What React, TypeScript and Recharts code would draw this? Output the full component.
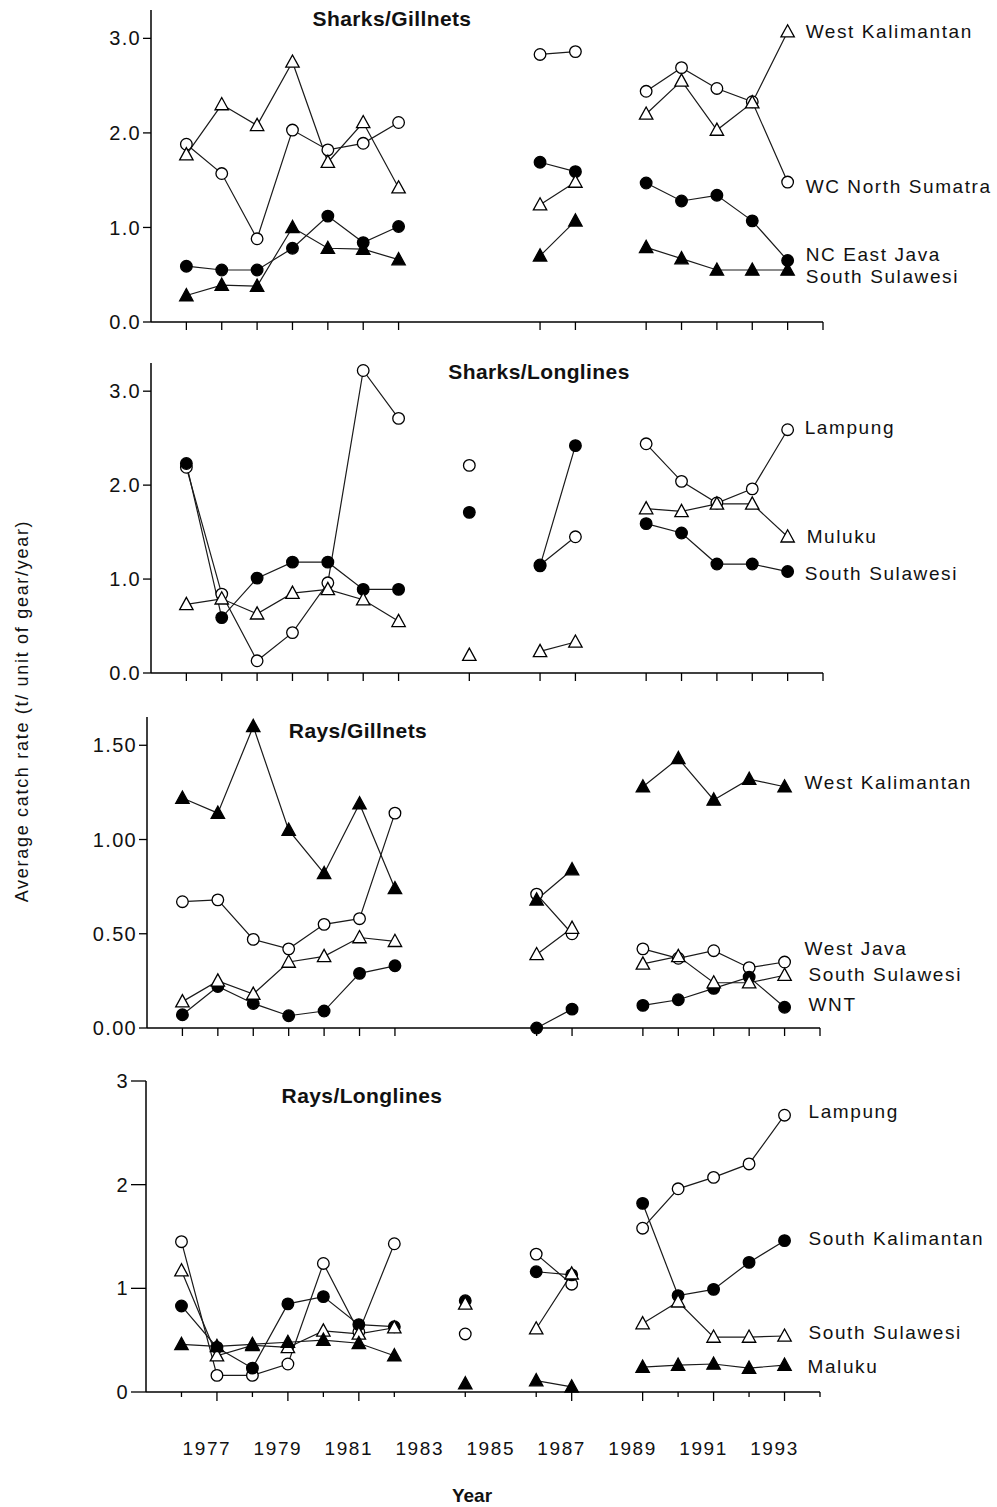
import { LineChart, Line, XAxis, YAxis } from "recharts";

const FONT = "'Liberation Sans', Arial, Helvetica, sans-serif";
const INK = "#111";

const YEARS = [1976, 1977, 1978, 1979, 1980, 1981, 1982, 1983, 1984, 1985, 1986, 1987, 1988, 1989, 1990, 1991, 1992, 1993];

// Sharks / gillnets
const sgWestKalimantan = [1.77, 2.3, 2.08, 2.75, 1.69, 2.11, 1.42, null, null, null, 1.24, 1.48, null, 2.2, 2.55, 2.03, 2.32, 3.07];
const sgWCNorthSumatra = [1.88, 1.57, 0.88, 2.03, 1.82, 1.89, 2.11, null, null, null, 2.83, 2.86, null, 2.44, 2.69, 2.47, 2.33, 1.48];
const sgNCEastJava = [0.59, 0.55, 0.55, 0.78, 1.12, 0.84, 1.01, null, null, null, 1.69, 1.59, null, 1.47, 1.28, 1.34, 1.07, 0.65];
const sgSouthSulawesi = [0.28, 0.39, 0.38, 1.0, 0.78, 0.77, 0.66, null, null, null, 0.7, 1.07, null, 0.79, 0.67, 0.55, 0.55, 0.55];

// Sharks / longlines
const slLampung = [2.19, 0.84, 0.13, 0.43, 0.96, 3.22, 2.71, null, 2.21, null, 1.15, 1.45, null, 2.44, 2.04, 1.81, 1.96, 2.59];
const slMuluku = [0.73, 0.79, 0.63, 0.85, 0.89, 0.78, 0.55, null, 0.19, null, 0.23, 0.33, null, 1.75, 1.72, 1.8, 1.8, 1.45];
const slSouthSulawesi = [2.23, 0.59, 1.01, 1.18, 1.18, 0.89, 0.89, null, 1.71, null, 1.14, 2.42, null, 1.59, 1.49, 1.16, 1.16, 1.08];

// Rays / gillnets
const rgWestKalimantan = [1.22, 1.14, 1.6, 1.05, 0.82, 1.19, 0.74, null, null, null, 0.68, 0.84, null, 1.28, 1.43, 1.21, 1.32, 1.28];
const rgWestJava = [0.67, 0.68, 0.47, 0.42, 0.55, 0.58, 1.14, null, null, null, 0.71, 0.5, null, 0.42, 0.37, 0.41, 0.32, 0.35];
const rgSouthSulawesi = [0.14, 0.25, 0.18, 0.35, 0.38, 0.48, 0.46, null, null, null, 0.39, 0.53, null, 0.34, 0.38, 0.24, 0.24, 0.28];
const rgWNT = [0.07, 0.22, 0.13, 0.065, 0.09, 0.29, 0.33, null, null, null, 0.0, 0.1, null, 0.12, 0.15, 0.21, 0.27, 0.11];

// Rays / longlines
const rlLampung = [1.45, 0.16, 0.16, 0.27, 1.24, 0.58, 1.43, null, 0.56, null, 1.33, 1.04, null, 1.58, 1.96, 2.07, 2.2, 2.67];
const rlSouthKalimantan = [0.83, 0.43, 0.23, 0.85, 0.92, 0.65, 0.63, null, 0.88, null, 1.16, 1.13, null, 1.82, 0.93, 0.99, 1.25, 1.46];
const rlSouthSulawesi = [1.17, 0.35, 0.45, 0.43, 0.59, 0.56, 0.62, null, 0.85, null, 0.61, 1.14, null, 0.66, 0.87, 0.53, 0.53, 0.54];
const rlMaluku = [0.46, 0.44, 0.46, 0.48, 0.5, 0.47, 0.35, null, 0.08, null, 0.11, 0.05, null, 0.24, 0.26, 0.27, 0.23, 0.26];

// axis ticks
const TICKS_GAP = [1976, 1977, 1978, 1979, 1980, 1981, 1982, 1986, 1987, 1989, 1990, 1991, 1992, 1993, 1994];
const TICKS_1984 = [1976, 1977, 1978, 1979, 1980, 1981, 1982, 1984, 1986, 1987, 1989, 1990, 1991, 1992, 1993, 1994];
const BOTTOM_TICKS = [1976, 1977, 1978, 1979, 1980, 1981, 1982, 1983, 1984, 1985, 1986, 1987, 1988, 1989, 1990, 1991, 1992, 1993, 1994];
const YEAR_LABELS = [1977, 1979, 1981, 1983, 1985, 1987, 1989, 1991, 1993];
const Y_TICKS_3 = [0, 1, 2, 3];
const Y_TICKS_RG = [0, 0.5, 1, 1.5];

type Kind = "openCircle" | "filledCircle" | "openTriangle" | "filledTriangle";

interface Series {
  key: string;
  name: string;
  values: (number | null)[];
  kind: Kind;
  dx: number;
  dy: number;
}

interface PanelCfg {
  title: string;
  titleX: number;
  titleY: number;
  top: number;
  plotTop: number;
  plotBottom: number;
  plotLeft: number;
  plotRight: number;
  axisHeight: number;
  yMax: number;
  yTicks: number[];
  yDigits: number;
  yTickSize: number;
  xTicks: number[];
  marks: number[];
  bottom?: boolean;
  series: Series[];
}

const PANELS: PanelCfg[] = [
  {
    title: "Sharks/Gillnets", titleX: 392, titleY: 18,
    top: 0, plotTop: 10, plotBottom: 322, plotLeft: 151, plotRight: 823, axisHeight: 23,
    yMax: 3.3, yTicks: Y_TICKS_3, yDigits: 1, yTickSize: 8, xTicks: TICKS_GAP, marks: TICKS_GAP,
    series: [
      { key: "b", name: "WC North Sumatra", values: sgWCNorthSumatra, kind: "openCircle", dx: 18, dy: 4 },
      { key: "c", name: "NC East Java", values: sgNCEastJava, kind: "filledCircle", dx: 18, dy: -6 },
      { key: "a", name: "West Kalimantan", values: sgWestKalimantan, kind: "openTriangle", dx: 18, dy: 0 },
      { key: "d", name: "South Sulawesi", values: sgSouthSulawesi, kind: "filledTriangle", dx: 18, dy: 6 },
    ],
  },
  {
    title: "Sharks/Longlines", titleX: 539, titleY: 371,
    top: 345, plotTop: 363, plotBottom: 673, plotLeft: 151, plotRight: 823, axisHeight: 27,
    yMax: 3.3, yTicks: Y_TICKS_3, yDigits: 1, yTickSize: 8, xTicks: TICKS_1984, marks: TICKS_1984,
    series: [
      { key: "a", name: "Lampung", values: slLampung, kind: "openCircle", dx: 17, dy: -2 },
      { key: "c", name: "South Sulawesi", values: slSouthSulawesi, kind: "filledCircle", dx: 17, dy: 2 },
      { key: "b", name: "Muluku", values: slMuluku, kind: "openTriangle", dx: 19, dy: 0 },
    ],
  },
  {
    title: "Rays/Gillnets", titleX: 358, titleY: 730,
    top: 700, plotTop: 717, plotBottom: 1028, plotLeft: 147, plotRight: 820, axisHeight: 32,
    yMax: 1.65, yTicks: Y_TICKS_RG, yDigits: 2, yTickSize: 8, xTicks: TICKS_GAP, marks: TICKS_GAP,
    series: [
      { key: "b", name: "West Java", values: rgWestJava, kind: "openCircle", dx: 20, dy: -14 },
      { key: "d", name: "WNT", values: rgWNT, kind: "filledCircle", dx: 24, dy: -3 },
      { key: "c", name: "South Sulawesi", values: rgSouthSulawesi, kind: "openTriangle", dx: 24, dy: -1 },
      { key: "a", name: "West Kalimantan", values: rgWestKalimantan, kind: "filledTriangle", dx: 20, dy: -4 },
    ],
  },
  {
    title: "Rays/Longlines", titleX: 362, titleY: 1095,
    top: 1060, plotTop: 1081, plotBottom: 1392, plotLeft: 146, plotRight: 820, axisHeight: 115,
    yMax: 3, yTicks: Y_TICKS_3, yDigits: 0, yTickSize: 15, xTicks: BOTTOM_TICKS, marks: TICKS_1984, bottom: true,
    series: [
      { key: "a", name: "Lampung", values: rlLampung, kind: "openCircle", dx: 24, dy: -4 },
      { key: "b", name: "South Kalimantan", values: rlSouthKalimantan, kind: "filledCircle", dx: 24, dy: -2 },
      { key: "c", name: "South Sulawesi", values: rlSouthSulawesi, kind: "openTriangle", dx: 24, dy: -4 },
      { key: "d", name: "Maluku", values: rlMaluku, kind: "filledTriangle", dx: 23, dy: 1 },
    ],
  },
];

const labelStyle = { fontFamily: FONT, fontSize: 19, letterSpacing: 1.6, fill: INK };

function markerDot(s: Series) {
  return (p: any) => {
    const { cx, cy, index, value } = p;
    if (value == null || typeof cx !== "number" || typeof cy !== "number" || isNaN(cy)) {
      return <g key={`n-${index}`} />;
    }
    const fill = s.kind.startsWith("filled") ? "#000" : "#fff";
    const mark = s.kind.endsWith("Circle") ? (
      <circle cx={cx} cy={cy} r={5.8} fill={fill} stroke="#000" strokeWidth={1.3} />
    ) : (
      <polygon
        points={`${cx},${cy - 7} ${cx - 6.7},${cy + 5.2} ${cx + 6.7},${cy + 5.2}`}
        fill={fill}
        stroke="#000"
        strokeWidth={1.3}
      />
    );
    return (
      <g key={`m-${index}`}>
        {mark}
        {index === YEARS.length - 1 && (
          <text x={cx + s.dx} y={cy + s.dy} dominantBaseline="central" {...labelStyle}>
            {s.name}
          </text>
        )}
      </g>
    );
  };
}

function xTick(cfg: PanelCfg) {
  return (p: any) => {
    const v = p.payload?.value;
    const { x, y } = p;
    const len = cfg.bottom ? (v % 2 === 1 ? 9 : 5) : 8;
    return (
      <g key={`t-${v}`}>
        {cfg.marks.includes(v) && <line x1={x} x2={x} y1={y} y2={y + len} stroke="#000" strokeWidth={1.3} />}
        {cfg.bottom && YEAR_LABELS.includes(v) && (
          <text x={x - 10} y={y + 56} textAnchor="middle" dominantBaseline="central" {...labelStyle}>
            {v}
          </text>
        )}
      </g>
    );
  };
}

function Panel({ cfg }: { cfg: PanelCfg }) {
  const data = YEARS.map((year, i) => {
    const row: Record<string, number | null> = { year };
    cfg.series.forEach((s) => (row[s.key] = s.values[i]));
    return row;
  });
  const height = cfg.plotBottom - cfg.top + cfg.axisHeight;

  return (
    <div style={{ position: "absolute", left: 0, top: cfg.top }}>
      <LineChart
        width={997}
        height={height}
        data={data}
        margin={{ top: cfg.plotTop - cfg.top, right: 997 - cfg.plotRight, bottom: 0, left: 0 }}
      >
        <XAxis
          dataKey="year"
          type="number"
          domain={[1975, 1994]}
          ticks={cfg.xTicks}
          interval={0}
          tickSize={0}
          tickMargin={0}
          tickLine={false}
          height={cfg.axisHeight}
          axisLine={{ stroke: "#000", strokeWidth: 1.5 }}
          tick={xTick(cfg)}
        />
        <YAxis
          type="number"
          domain={[0, cfg.yMax]}
          ticks={cfg.yTicks}
          interval={0}
          width={cfg.plotLeft}
          tickSize={cfg.yTickSize}
          tickMargin={2}
          tickLine={{ stroke: "#000", strokeWidth: 1.3 }}
          axisLine={{ stroke: "#000", strokeWidth: 1.5 }}
          tickFormatter={(v: number) => v.toFixed(cfg.yDigits)}
          tick={{ fill: INK, fontSize: 20, fontFamily: FONT, letterSpacing: 1.3 }}
        />
        {cfg.series.map((s) => (
          <Line
            key={`l-${s.key}`}
            dataKey={s.key}
            type="linear"
            stroke="#1a1a1a"
            strokeWidth={1.2}
            dot={false}
            activeDot={false}
            connectNulls={false}
            isAnimationActive={false}
          />
        ))}
        {cfg.series.map((s) => (
          <Line
            key={`d-${s.key}`}
            dataKey={s.key}
            type="linear"
            stroke="none"
            dot={markerDot(s)}
            activeDot={false}
            connectNulls={false}
            isAnimationActive={false}
          />
        ))}
      </LineChart>
    </div>
  );
}

export default function App() {
  return (
    <div style={{ position: "absolute", left: 0, top: 0, width: 997, height: 1507, background: "#fff" }}>
      {PANELS.map((cfg) => (
        <Panel key={cfg.title} cfg={cfg} />
      ))}
      <svg width={997} height={1507} style={{ position: "absolute", left: 0, top: 0, pointerEvents: "none" }}>
        {PANELS.map((cfg) => (
          <text
            key={cfg.title}
            x={cfg.titleX}
            y={cfg.titleY}
            textAnchor="middle"
            dominantBaseline="central"
            fontFamily={FONT}
            fontWeight="bold"
            fontSize={21}
            letterSpacing={0.4}
            fill={INK}
          >
            {cfg.title}
          </text>
        ))}
        <text
          transform="translate(22, 711) rotate(-90)"
          textAnchor="middle"
          dominantBaseline="central"
          fontFamily={FONT}
          fontSize={18}
          letterSpacing={1.7}
          fill={INK}
        >
          Average catch rate (t/ unit of gear/year)
        </text>
        <text x={472} y={1495} textAnchor="middle" dominantBaseline="central" fontFamily={FONT} fontWeight="bold" fontSize={19} fill={INK}>
          Year
        </text>
      </svg>
    </div>
  );
}
